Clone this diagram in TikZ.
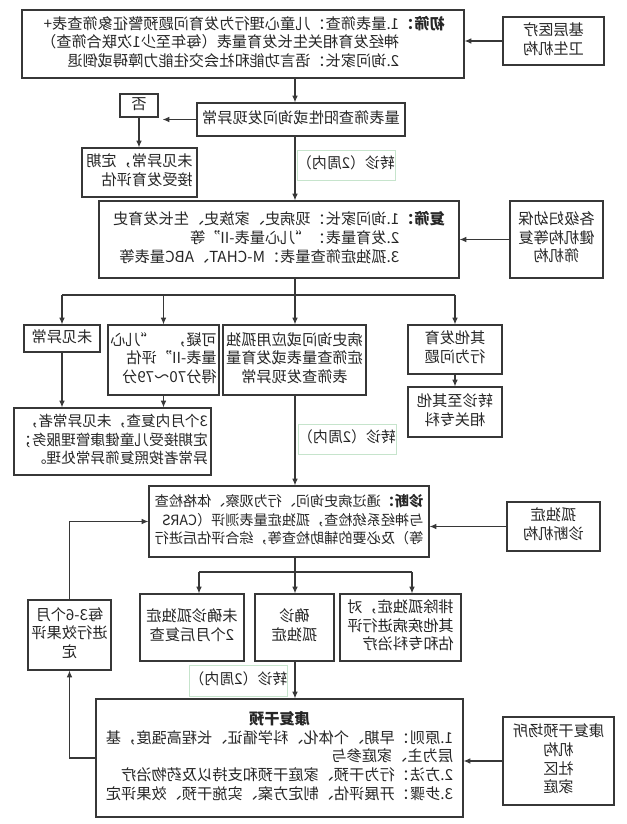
\documentclass[tikz,border=0pt]{standalone}
\usepackage{fontspec}
\setmainfont{Noto Sans CJK SC}
\usepackage{graphicx}
\usetikzlibrary{arrows.meta}
\definecolor{boxline}{RGB}{55,55,55}
\definecolor{tagline}{RGB}{198,228,204}
\newcommand{\mtxt}[2][c]{\reflectbox{\begin{tabular}{@{}#1@{}}#2\end{tabular}}}
\tikzset{
  box/.style={draw=boxline, line width=0.9pt, inner sep=0pt, text=black!85, font=\fontsize{11.4}{14}\selectfont},
  tag/.style={draw=tagline, line width=0.6pt, inner sep=0pt, text=black!85, font=\fontsize{11.2}{14}\selectfont},
  dims/.style 2 args={minimum width=#1*0.75pt, minimum height=#2*0.75pt},
  flow/.style={draw=boxline, line width=0.8pt, -{Latex[length=5pt,width=4.2pt]}},
  link/.style={draw=boxline, line width=0.8pt},
}

\begin{document}
\begin{tikzpicture}[x=0.75pt,y=0.75pt,yscale=-1,xscale=1]
\useasboundingbox (0,0) rectangle (627,824);
% main axis and branch levels
\coordinate (ax) at (295,0);
\coordinate (br1) at (0,295);
\coordinate (br2) at (0,572);
\coordinate (b1) at (199,572);
\coordinate (b3) at (412,572);

% Text Node
\node [box, dims={442}{68}] (scr1) at (243,44) {\mtxt[l]{\textbf{初筛：}1.量表筛查：儿童心理行为发育问题预警征象筛查表+\\\phantom{\textbf{初筛：}}神经发育相关生长发育量表（每年至少1次联合筛查）\\\phantom{\textbf{初筛：}}2.询问家长：语言功能和社会交往能力障碍或倒退}};
% Text Node
\node [box, dims={101}{48}] (inst1) at (553.5,41) {\mtxt{基层医疗\\卫生机构}};
% Text Node
\node [box, dims={208}{33}] (pos) at (301,119.5) {\mtxt{量表筛查阳性或询问发现异常}};
% Text Node
\node [box, dims={38}{23}] (no) at (139,105.5) {\mtxt{否}};
% Text Node
\node [box, dims={115}{49}] (norm1) at (139.5,172.5) {\mtxt[l]{未见异常，定期\\接受发育评估}};
% Text Node
\node [tag, dims={98}{30}] (ref1) at (346,165) {\mtxt{转诊（2周内）}};
% Text Node
\node [box, dims={360}{77}] (scr2) at (279,239.5) {\mtxt[l]{\textbf{复筛：}1.询问家长：现病史、家族史、生长发育史\\\phantom{\textbf{复筛：}}2.发育量表：“儿心量表-II”等\\\phantom{\textbf{复筛：}}3.孤独症筛查量表：M-CHAT、ABC量表等}};
% Text Node
\node [box, dims={93}{77}] (inst2) at (556.5,239.5) {\mtxt{各级妇幼保\\健机构等复\\筛机构}};
% Text Node
\node [box, dims={76}{27}] (norm2) at (62,338.5) {\mtxt{未见异常}};
% Text Node
\node [box, dims={111}{70}] (susp) at (163.5,360) {\mtxt[l]{可疑，\quad“儿心\\量表-II”评估\\得分70～79分}};
% Text Node
\node [box, dims={143}{70}] (abn) at (294.5,360) {\mtxt{病史询问或应用孤独\\症筛查量表或发育量\\表筛查发现异常}};
% Text Node
\node [box, dims={94}{49}] (oth) at (455,349.5) {\mtxt{其他发育\\行为问题}};
% Text Node
\node [box, dims={94}{50}] (spec) at (455,412) {\mtxt{转诊至其他\\相关专科}};
% Text Node
\node [box, dims={197}{67}, font=\fontsize{11}{14}\selectfont] (recheck) at (112.5,441.5) {\mtxt[l]{3个月内复查，未见异常者，\\定期接受儿童健康管理服务；\\异常者按照复筛异常处理。}};
% Text Node
\node [tag, dims={98}{30}] (ref2) at (347,439) {\mtxt{转诊（2周内）}};
% Text Node
\node [box, dims={280}{71}, font=\fontsize{10.6}{14}\selectfont] (diag) at (289,521.5) {\mtxt[l]{\textbf{诊断：}通过病史询问、行为观察、体格检查\\与神经系统检查，孤独症量表测评（CARS\\等）及必要的辅助检查等，综合评估后进行}};
% Text Node
\node [box, dims={93}{49}] (inst3) at (553.5,526.5) {\mtxt{孤独症\\诊断机构}};
% Text Node
\node [box, dims={104}{67}] (undet) at (192,627.5) {\mtxt{未确诊孤独症\\2个月后复查}};
% Text Node
\node [box, dims={79}{67}] (conf) at (294.5,627.5) {\mtxt{确诊\\孤独症}};
% Text Node
\node [box, dims={121}{67}] (excl) at (400.5,627.5) {\mtxt[l]{排除孤独症，对\\其他疾病进行评\\估和专科治疗}};
% Text Node
\node [box, dims={83}{70}] (eval) at (69.5,635) {\mtxt{每3-6个月\\进行效果评\\定}};
% Text Node
\node [tag, dims={97}{31}] (ref3) at (238.5,680.5) {\mtxt{转诊（2周内）}};
% Text Node
\node [box, dims={367}{118}] (rehab) at (279.5,758) {\mtxt[l]{\multicolumn{1}{c}{\textbf{康复干预}}\\1.原则：早期、个体化、科学循证、长程高强度，基\\层为主、家庭参与\\2.方法：行为干预、家庭干预和支持以及药物治疗\\3.步骤：开展评估、制定方案、实施干预、效果评定}};
% Text Node
\node [box, dims={111}{88}] (inst4) at (558.5,761) {\mtxt{康复干预场所\\机构\\社区\\家庭}};

% Connection
\draw [flow] (inst1.west) -- (inst1.west -| scr1.east);
% Connection
\draw [flow] (ax |- scr1.south) -- (ax |- pos.north);
% Connection
\draw [flow, shorten >=3pt] (pos.west) -- (pos.west -| no.east);
% Connection
\draw [flow] (no.south) -- (no.south |- norm1.north);
% Connection
\draw [flow] (ax |- pos.south) -- (ax |- scr2.north);
% Connection
\draw [flow] (inst2.west) -- (inst2.west -| scr2.east);
% Connection
\draw [link] (norm2.north |- br1) -- (oth.north |- br1);
% Connection
\draw [flow] (ax |- scr2.south) -- (ax |- abn.north);
% Connection
\draw [flow] (norm2.north |- br1) -- (norm2.north);
% Connection
\draw [flow] (susp.north |- br1) -- (susp.north);
% Connection
\draw [flow] (oth.north |- br1) -- (oth.north);
% Connection
\draw [flow] (oth.south) -- (spec.north);
% Connection
\draw [flow] (norm2.south) -- (norm2.south |- recheck.north);
% Connection
\draw [flow] (susp.south) -- (susp.south |- recheck.north);
% Connection
\draw [flow] (ax |- abn.south) -- (ax |- diag.north);
% Connection
\draw [flow] (inst3.west) -- (inst3.west -| diag.east);
% Connection
\draw [link] (ax |- diag.south) -- (ax |- br2);
% Connection
\draw [link] (b1) -- (b3);
% Connection
\draw [flow] (b1) -- (b1 |- undet.north);
% Connection
\draw [flow] (ax |- br2) -- (ax |- conf.north);
% Connection
\draw [flow] (b3) -- (b3 |- excl.north);
% Connection
\draw [flow] (ax |- conf.south) -- (ax |- rehab.north);
% Connection
\draw [flow] (inst4.west) -- (inst4.west -| rehab.east);
% Connection
\draw [flow] (rehab.west) -| (eval.south);
% Connection
\draw [flow] (eval.north) |- (diag.west);

\end{tikzpicture}
\end{document}
